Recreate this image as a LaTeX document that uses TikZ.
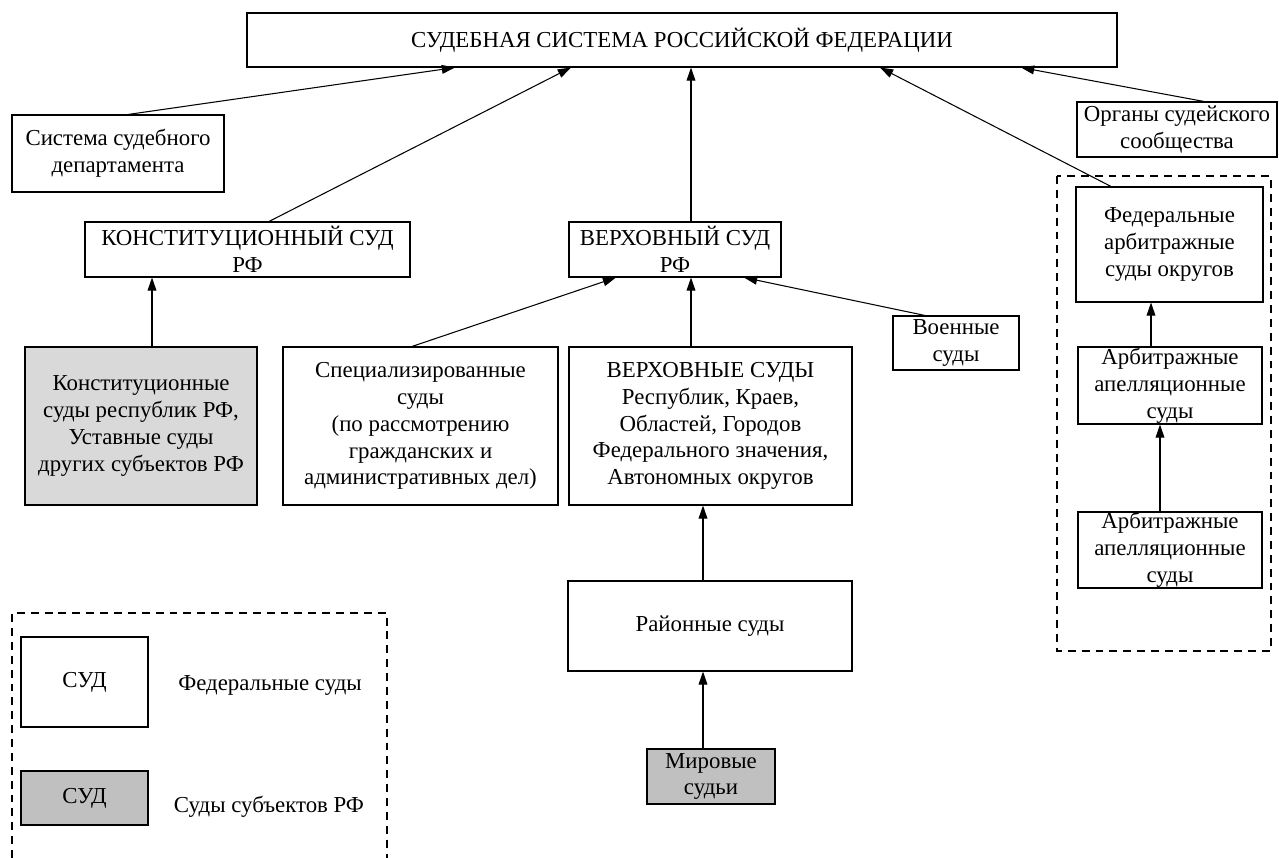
\documentclass[tikz,border=0pt]{standalone}
\usepackage{fontspec}
\setmainfont{Liberation Serif}
\usetikzlibrary{fit,arrows.meta}
\definecolor{lgray}{HTML}{D9D9D9}
\definecolor{mgray}{HTML}{C0C0C0}
\begin{document}
\begin{tikzpicture}[x=0.02cm,y=-0.02cm,
  box/.style={draw,line width=0.6pt,inner sep=0pt},
  txt/.style={align=center,inner sep=0pt,font=\fontsize{13}{15.3}\selectfont},
  arr/.style={line width=0.6pt,-{Triangle[length=7.5pt,width=5pt]}},
  dbox/.style={draw,line width=0.6pt,dash pattern=on 4.5pt off 3.4pt}]
\useasboundingbox (0,0) rectangle (1279,858);
% boxes
\node[box,fit={(247,13)(1117,67)}] (top) {};
\node[txt] at (top.center) {СУДЕБНАЯ СИСТЕМА РОССИЙСКОЙ ФЕДЕРАЦИИ};
\node[box,fit={(12,115)(224,192)}] (sysdep) {};
\node[txt] at (sysdep.center) {Система судебного\\департамента};
\node[box,fit={(85,222)(410,277)}] (konst) {};
\node[txt] at (konst.center) {КОНСТИТУЦИОННЫЙ СУД\\РФ};
\node[box,fit={(569,222)(781,277)}] (verkh) {};
\node[txt] at (verkh.center) {ВЕРХОВНЫЙ СУД\\РФ};
\node[box,fit={(1077,102)(1277,157)}] (organy) {};
\node[txt] at (organy.center) {Органы судейского\\сообщества};
\draw[dbox] (1057,176) rectangle (1271,651);
\node[box,fit={(1076,187)(1263,302)}] (fedarb) {};
\node[txt] at (fedarb.center) {Федеральные\\арбитражные\\суды округов};
\node[box,fit={(1078,347)(1262,424)}] (arbapp1) {};
\node[txt] at (arbapp1.center) {Арбитражные\\апелляционные\\суды};
\node[box,fit={(1078,512)(1262,588)}] (arbapp2) {};
\node[txt] at (arbapp2.center) {Арбитражные\\апелляционные\\суды};
\node[box,fill=lgray,fit={(25,347)(257,505)}] (konstsub) {};
\node[txt] at (konstsub.center) {Конституционные\\суды республик РФ,\\Уставные суды\\других субъектов РФ};
\node[box,fit={(283,347)(558,505)}] (spec) {};
\node[txt] at (spec.center) {Специализированные\\суды\\(по рассмотрению\\гражданских и\\административных дел)};
\node[box,fit={(569,347)(852,505)}] (verkhsud) {};
\node[txt] at (verkhsud.center) {ВЕРХОВНЫЕ СУДЫ\\Республик, Краев,\\Областей, Городов\\Федерального значения,\\Автономных округов};
\node[box,fit={(893,316)(1019,370)}] (voen) {};
\node[txt] at (voen.center) {Военные\\суды};
\node[box,fit={(568,581)(852,671)}] (raion) {};
\node[txt] at (raion.center) {Районные суды};
\node[box,fill=mgray,fit={(647,749)(775,804)}] (mir) {};
\node[txt] at (mir.center) {Мировые\\судьи};
% legend
\draw[dbox] (12,858) -- (12,613) -- (387,613) -- (387,858);
\node[box,fit={(21,637)(148,727)}] (leg1) {};
\node[txt] at (leg1.center) {СУД};
\node[txt] (leg1t) at (270,685) {Федеральные суды};
\node[box,fill=mgray,fit={(21,771)(148,825)}] (leg2) {};
\node[txt] at (leg2.center) {СУД};
\node[txt] (leg2t) at (269,807) {Суды субъектов РФ};
% connectors
\draw[arr] (sysdep.north -| 128,0) -- (top.south -| 455,0);
\draw[arr] (konst.north -| 269,0) -- (top.south -| 571,0);
\draw[arr] (verkh.north -| 691,0) -- (top.south -| 691,0);
\draw[arr] (fedarb.north -| 1111,0) -- (top.south -| 880,0);
\draw[arr] (organy.north -| 1204,0) -- (top.south -| 1021,0);
\draw[arr] (konstsub.north -| 152,0) -- (konst.south -| 152,0);
\draw[arr] (spec.north -| 412,0) -- (verkh.south -| 616,0);
\draw[arr] (verkhsud.north -| 691,0) -- (verkh.south -| 691,0);
\draw[arr] (voen.north -| 925,0) -- (verkh.south -| 744,0);
\draw[arr] (raion.north -| 703,0) -- (verkhsud.south -| 703,0);
\draw[arr] (mir.north -| 703,0) -- (raion.south -| 703,0);
\draw[arr] (arbapp1.north -| 1151,0) -- (fedarb.south -| 1151,0);
\draw[arr] (arbapp2.north -| 1160,0) -- (arbapp1.south -| 1160,0);
\end{tikzpicture}
\end{document}
